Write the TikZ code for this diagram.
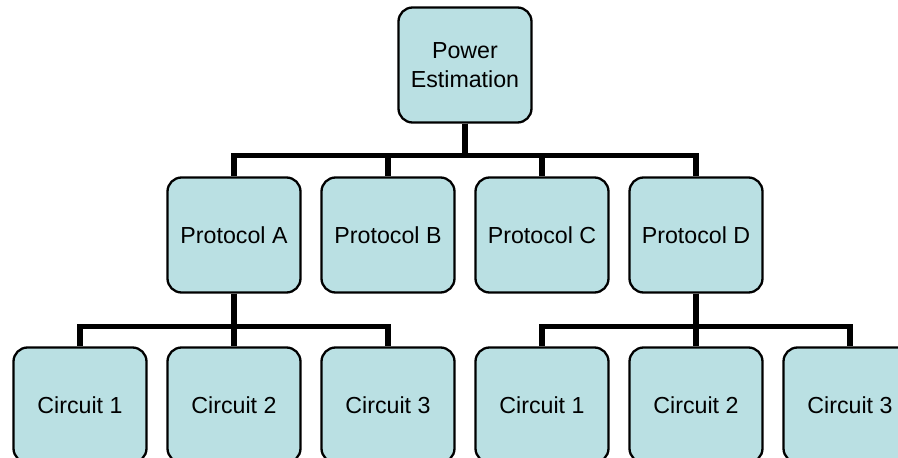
\documentclass[tikz,border=0pt]{standalone}
\usepackage{fontspec}
\newfontfamily\orgfont{Liberation Sans}
\definecolor{boxfill}{RGB}{186,224,227}

\begin{document}
\begin{tikzpicture}[
    x=1pt, y=-1pt,
    box/.style={draw, rounded corners=14pt, line width=2.3pt, fill=boxfill,
                minimum width=133pt, minimum height=115pt, align=center,
                font={\orgfont\fontsize{23.2}{29}\selectfont}},
    link/.style={line width=5.5pt}
  ]
    \useasboundingbox (0,0) rectangle (898,458);
    \clip (0,0) rectangle (898,458);

    \node[box] (pwr) at (465,65)   {Power\\Estimation};
    \node[box] (pa)  at (234,235)  {Protocol A};
    \node[box] (pb)  at (388,235)  {Protocol B};
    \node[box] (pc)  at (542,235)  {Protocol C};
    \node[box] (pd)  at (696,235)  {Protocol D};
    \node[box] (a1)  at (80,405)   {Circuit 1};
    \node[box] (a2)  at (234,405)  {Circuit 2};
    \node[box] (a3)  at (388,405)  {Circuit 3};
    \node[box] (d1)  at (542,405)  {Circuit 1};
    \node[box] (d2)  at (696,405)  {Circuit 2};
    \node[box] (d3)  at (850,405)  {Circuit 3};

    \draw[link] (pwr.south) -- ++(0,32) -| (pa.north);
    \draw[link] (pwr.south) -- ++(0,32) -| (pb.north);
    \draw[link] (pwr.south) -- ++(0,32) -| (pc.north);
    \draw[link] (pwr.south) -- ++(0,32) -| (pd.north);
    \draw[link] (pa.south)  -- ++(0,33) -| (a1.north);
    \draw[link] (pa.south)  -- ++(0,33) -| (a2.north);
    \draw[link] (pa.south)  -- ++(0,33) -| (a3.north);
    \draw[link] (pd.south)  -- ++(0,33) -| (d1.north);
    \draw[link] (pd.south)  -- ++(0,33) -| (d2.north);
    \draw[link] (pd.south)  -- ++(0,33) -| (d3.north);
  \end{tikzpicture}
\end{document}
